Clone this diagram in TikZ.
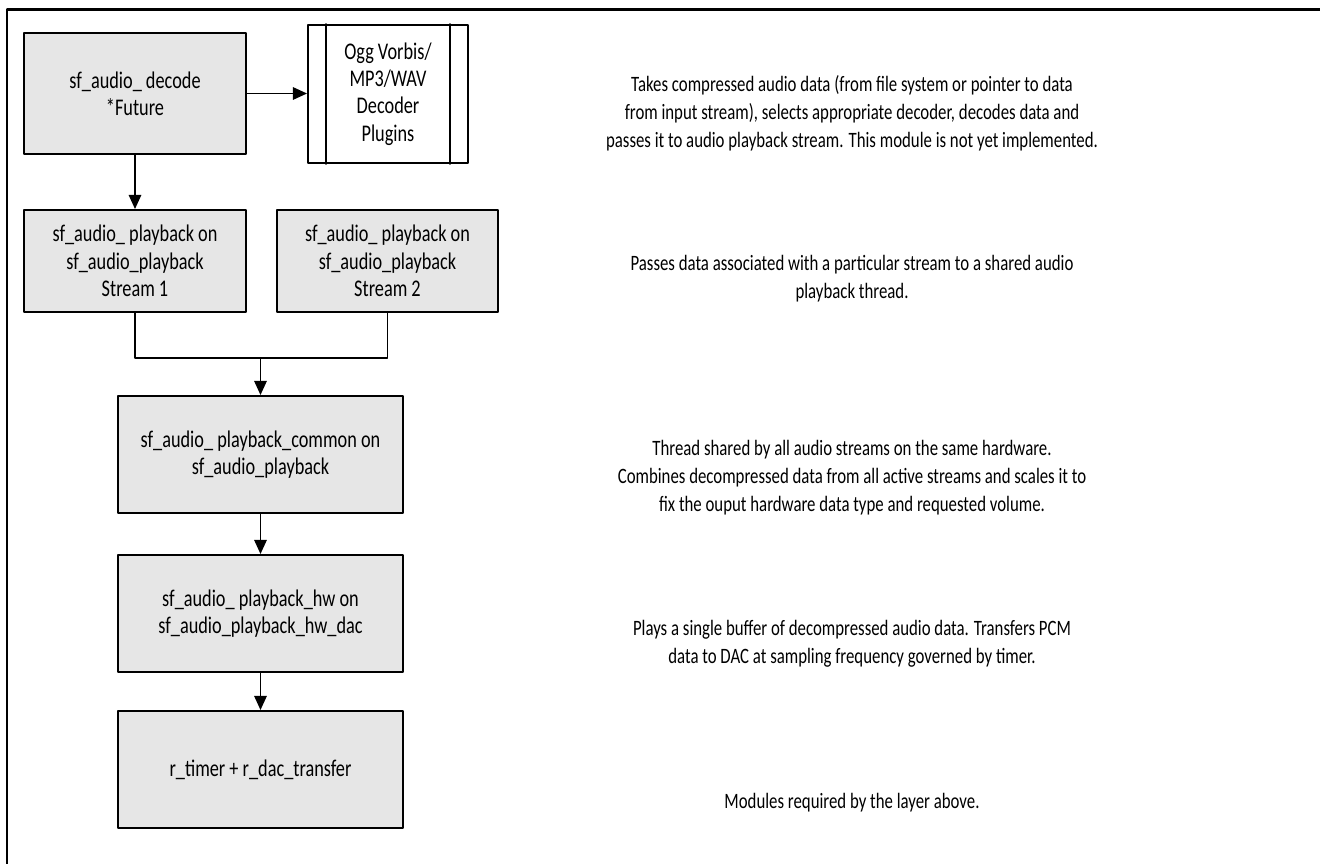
\documentclass[tikz,border=0pt]{standalone}
\usepackage{fontspec}
\setmainfont{Carlito}[FakeStretch=0.765]
\usetikzlibrary{arrows.meta}
\definecolor{boxgray}{RGB}{230,230,230}

\begin{document}
\begin{tikzpicture}[line cap=round,line join=round,>={Triangle[length=8pt,width=7pt]},x=0.02cm,y=-0.02cm,
	blk/.style={draw,line width=1.1pt,fill=boxgray,align=center,inner sep=0pt,font=\fontsize{13.6}{15.5}\selectfont},
	txt/.style={align=center,inner sep=0pt,font=\fontsize{12.5}{16}\selectfont},
	conn/.style={line width=1.1pt}]
			\useasboundingbox (0,0) rectangle (1320,864);
			\draw [line width=1.7pt] (7,880)-- (7,10)-- (1330,10);
			% blocks
			\node [blk,minimum width=4.44cm,minimum height=2.42cm] (dec) at (135,93.5) {sf\_audio\_ decode\\*Future};
			\node [blk,fill=white,minimum width=3.2cm,minimum height=2.76cm] (ogg) at (388,94) {Ogg Vorbis/\\MP3/WAV\\Decoder\\Plugins};
			\draw [line width=1.1pt] ([xshift=0.38cm]ogg.north west)-- ([xshift=0.38cm]ogg.south west);
			\draw [line width=1.1pt] ([xshift=-0.38cm]ogg.north east)-- ([xshift=-0.38cm]ogg.south east);
			\node [blk,minimum width=4.44cm,minimum height=2.04cm] (strA) at (135,261) {sf\_audio\_ playback on\\sf\_audio\_playback\\Stream 1};
			\node [blk,minimum width=4.42cm,minimum height=2.04cm] (strB) at (387.5,261) {sf\_audio\_ playback on\\sf\_audio\_playback\\Stream 2};
			\node [blk,minimum width=5.7cm,minimum height=2.34cm] (common) at (260.5,454.5) {sf\_audio\_ playback\_common on\\sf\_audio\_playback};
			\node [blk,minimum width=5.7cm,minimum height=2.34cm] (hw) at (260.5,613.5) {sf\_audio\_ playback\_hw on\\sf\_audio\_playback\_hw\_dac};
			\node [blk,minimum width=5.7cm,minimum height=2.34cm] (timer) at (260.5,769.5) {r\_timer + r\_dac\_transfer};
			% connectors
			\coordinate (join) at (260.5,358);
			\draw [conn,->] (dec.east)-- (ogg.west |- dec.east);
			\draw [conn,->] (dec.south)-- (strA.north);
			\draw [conn] (strA.south) |- (join) -| (strB.south);
			\draw [conn,->] (join)-- (common.north);
			\draw [conn,->] (common.south)-- (hw.north);
			\draw [conn,->] (hw.south)-- (timer.north);
			% descriptions
			\node [txt] (txtdec) at (852,113) {Takes compressed audio data (from file system or pointer to data\\from input stream), selects appropriate decoder, decodes data and\\passes it to audio playback stream. This module is not yet implemented.};
			\node [txt] (txtstr) at (852,279) {Passes data associated with a particular stream to a shared audio\\playback thread.};
			\node [txt] (txtcom) at (852,478) {Thread shared by all audio streams on the same hardware.\\Combines decompressed data from all active streams and scales it to\\fix the ouput hardware data type and requested volume.};
			\node [txt] (txthw) at (852,644) {Plays a single buffer of decompressed audio data. Transfers PCM\\data to DAC at sampling frequency governed by timer.};
			\node [txt] (txttim) at (852,803) {Modules required by the layer above.};
\end{tikzpicture}
\end{document}
